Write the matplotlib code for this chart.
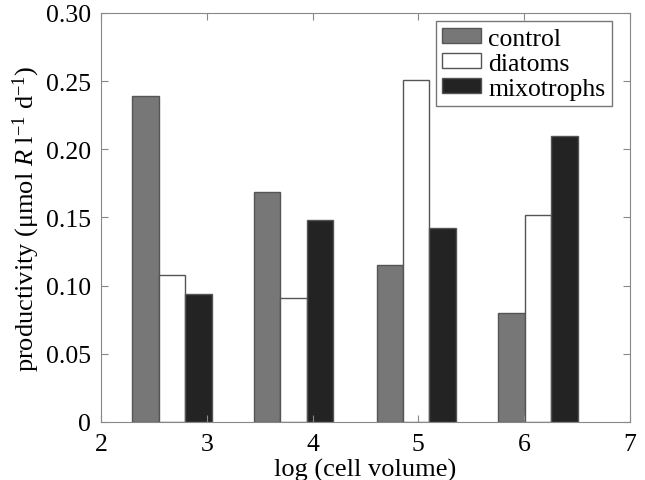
import matplotlib
matplotlib.use("Agg")
import matplotlib.pyplot as plt
import numpy as np

# group centres on the log (cell volume) axis
centres = [2.67, 3.82, 4.98, 6.13]
control = [0.239, 0.169, 0.115, 0.080]
diatoms = [0.108, 0.091, 0.251, 0.152]
mixotrophs = [0.094, 0.148, 0.142, 0.210]
labels = ["control", "diatoms", "mixotrophs"]
colours = ["#777777", "white", "#232323"]

plt.rcParams["font.family"] = ["Liberation Serif", "DejaVu Serif"]
plt.rcParams["mathtext.fontset"] = "custom"
plt.rcParams["mathtext.rm"] = "Liberation Serif"
plt.rcParams["mathtext.it"] = "Liberation Serif:italic"

fs = 18.5
fig = plt.figure(figsize=(6.45, 4.81), dpi=100)
ax = fig.add_axes([0.1566, 0.1206, 0.82, 0.8503])

w = 0.25
x = np.array(centres)
for off, vals, lab, col in zip([-w, 0, w], [control, diatoms, mixotrophs], labels, colours):
    ax.bar(x + off, vals, width=w, color=col, edgecolor="#555555", linewidth=1.0, label=lab)

ax.set_xlim(2, 7)
ax.set_ylim(0, 0.30)
ax.set_xticks([2, 3, 4, 5, 6, 7])
ax.set_yticks([0, 0.05, 0.10, 0.15, 0.20, 0.25, 0.30])
ax.set_yticklabels(["0", "0.05", "0.10", "0.15", "0.20", "0.25", "0.30"])
ax.tick_params(direction="in", top=True, right=True, length=5, labelsize=fs, color="#888888")
ax.tick_params(axis="y", pad=7)
ax.tick_params(axis="x", pad=8)
for s in ax.spines.values():
    s.set_color("#888888")

ax.set_xlabel("log (cell volume)", fontsize=19, labelpad=2)
ax.set_ylabel(r"productivity (μmol $\it{R}$ l$^{-1}$ d$^{-1}$)", fontsize=19, labelpad=3)

leg = ax.legend(loc="upper right", bbox_to_anchor=(0.966, 0.98), fontsize=fs,
                frameon=True, fancybox=False, edgecolor="#555555",
                handlelength=1.5, handleheight=0.5, handletextpad=0.3,
                labelspacing=0.12, borderpad=0.25, borderaxespad=0.0)
leg.get_frame().set_linewidth(1.0)

fig.savefig("out.png", dpi=100)
